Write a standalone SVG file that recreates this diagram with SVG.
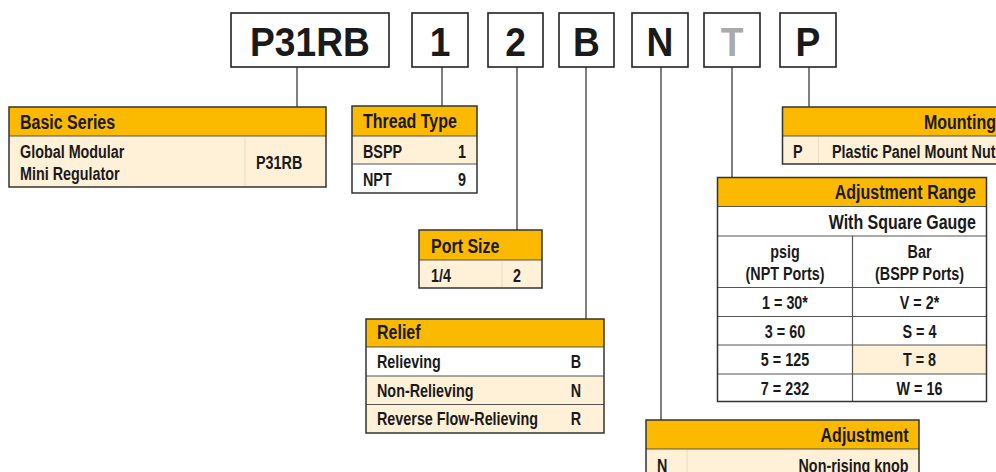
<svg xmlns="http://www.w3.org/2000/svg" width="996" height="472" viewBox="0 0 996 472">
<style>
.bg{fill:#ffffff}
.box{fill:#ffffff;stroke:#222;stroke-width:1.6}
.big{font-family:"Liberation Sans",Arial,sans-serif;font-weight:bold;font-size:40px;fill:#1a1a1a;text-anchor:middle}
.gray{fill:#aaaaaa}
.hd{fill:#fbb900}
.cr{fill:#fff0d8}
.wh{fill:#ffffff}
.frame{fill:none;stroke:#333;stroke-width:1.5}
.rule{stroke:#555;stroke-width:1.2}
.faint{stroke:#e6dcc8;stroke-width:1}
.h{font-family:"Liberation Sans",Arial,sans-serif;font-weight:bold;font-size:19.5px;fill:#1a1a1a}
.t{font-family:"Liberation Sans",Arial,sans-serif;font-weight:bold;font-size:17.5px;fill:#1a1a1a}
.m{text-anchor:middle}
.e{text-anchor:end}
.conn line{stroke:#555;stroke-width:1.5}
</style>
<rect class="bg" x="0" y="0" width="996" height="472"/>

<g id="connectors" class="conn">
<line x1="297" y1="67" x2="297" y2="107"/>
<line x1="442" y1="67" x2="442" y2="106"/>
<line x1="517" y1="67" x2="517" y2="230"/>
<line x1="586" y1="67" x2="586" y2="319"/>
<line x1="661" y1="67" x2="661" y2="420"/>
<line x1="732" y1="67" x2="732" y2="177"/>
<line x1="809" y1="67" x2="809" y2="107"/>
</g>

<g id="code-P31RB"><rect class="box" x="231" y="13" width="158" height="54"/><text class="big" transform="translate(310,56) scale(0.93,1)">P31RB</text></g>
<g id="code-1"><rect class="box" x="412" y="13" width="56" height="54"/><text class="big" transform="translate(440,56) scale(0.93,1)">1</text></g>
<g id="code-2"><rect class="box" x="488" y="13" width="55" height="54"/><text class="big" transform="translate(515.5,56) scale(0.93,1)">2</text></g>
<g id="code-B"><rect class="box" x="559" y="13" width="55" height="54"/><text class="big" transform="translate(586.5,56) scale(0.93,1)">B</text></g>
<g id="code-N"><rect class="box" x="632" y="13" width="56" height="54"/><text class="big" transform="translate(660,56) scale(0.93,1)">N</text></g>
<g id="code-T"><rect class="box" x="704" y="13" width="56" height="54"/><text class="big gray" transform="translate(732,56) scale(0.93,1)">T</text></g>
<g id="code-P"><rect class="box" x="780" y="13" width="56" height="54"/><text class="big" transform="translate(808,56) scale(0.93,1)">P</text></g>

<g id="basic-series">
<rect class="hd" x="9" y="107" width="317" height="29"/>
<rect class="cr" x="9" y="136" width="317" height="51"/>
<line class="faint" x1="245" y1="137" x2="245" y2="186"/>
<line class="rule" x1="9" y1="136" x2="326" y2="136"/>
<rect class="frame" x="9" y="107" width="317" height="80"/>
<text class="h" transform="translate(20,128.5) scale(0.82,1)">Basic Series</text>
<text class="t" transform="translate(20,158) scale(0.82,1)">Global Modular</text>
<text class="t" transform="translate(20,180) scale(0.82,1)">Mini Regulator</text>
<text class="t" transform="translate(256,169) scale(0.82,1)">P31RB</text>
</g>

<g id="thread-type">
<rect class="hd" x="352" y="106" width="125" height="30"/>
<rect class="cr" x="352" y="136" width="125" height="28"/>
<rect class="wh" x="352" y="164" width="125" height="29"/>
<line class="rule" x1="352" y1="136" x2="477" y2="136"/>
<line class="rule" x1="352" y1="164" x2="477" y2="164"/>
<rect class="frame" x="352" y="106" width="125" height="87"/>
<text class="h" transform="translate(363,128) scale(0.82,1)">Thread Type</text>
<text class="t" transform="translate(363,157.5) scale(0.82,1)">BSPP</text>
<text class="t e" transform="translate(466,157.5) scale(0.82,1)">1</text>
<text class="t" transform="translate(363,186) scale(0.82,1)">NPT</text>
<text class="t e" transform="translate(466,186) scale(0.82,1)">9</text>
</g>

<g id="port-size">
<rect class="hd" x="419" y="230" width="123" height="30"/>
<rect class="cr" x="419" y="260" width="123" height="28"/>
<line class="faint" x1="502" y1="261" x2="502" y2="287"/>
<line class="rule" x1="419" y1="260" x2="542" y2="260"/>
<rect class="frame" x="419" y="230" width="123" height="58"/>
<text class="h" transform="translate(431,252.5) scale(0.82,1)">Port Size</text>
<text class="t" transform="translate(431,281.5) scale(0.82,1)">1/4</text>
<text class="t e" transform="translate(521,281.5) scale(0.82,1)">2</text>
</g>

<g id="relief">
<rect class="hd" x="366" y="319" width="238" height="28"/>
<rect class="wh" x="366" y="347" width="238" height="29"/>
<rect class="cr" x="366" y="376" width="238" height="57"/>
<line class="rule" x1="366" y1="347" x2="604" y2="347"/>
<line class="rule" x1="366" y1="376" x2="604" y2="376"/>
<line class="rule" x1="366" y1="404.5" x2="604" y2="404.5"/>
<rect class="frame" x="366" y="319" width="238" height="114"/>
<text class="h" transform="translate(377,339) scale(0.82,1)">Relief</text>
<text class="t" transform="translate(377,368) scale(0.82,1)">Relieving</text>
<text class="t m" transform="translate(576,368) scale(0.82,1)">B</text>
<text class="t" transform="translate(377,396.5) scale(0.82,1)">Non-Relieving</text>
<text class="t m" transform="translate(576,396.5) scale(0.82,1)">N</text>
<text class="t" transform="translate(377,425) scale(0.82,1)">Reverse Flow-Relieving</text>
<text class="t m" transform="translate(576,425) scale(0.82,1)">R</text>
</g>

<g id="adjustment-range">
<rect class="hd" x="717.5" y="177.5" width="269" height="29"/>
<rect class="wh" x="717.5" y="206.5" width="269" height="195"/>
<rect class="cr" x="852.5" y="345" width="134" height="29"/>
<line class="rule" x1="717.5" y1="206.5" x2="986.5" y2="206.5"/>
<line class="rule" x1="717.5" y1="236" x2="986.5" y2="236"/>
<line class="rule" x1="717.5" y1="287.5" x2="986.5" y2="287.5"/>
<line class="rule" x1="717.5" y1="316.5" x2="986.5" y2="316.5"/>
<line class="rule" x1="717.5" y1="345" x2="986.5" y2="345"/>
<line class="rule" x1="717.5" y1="374" x2="986.5" y2="374"/>
<line class="rule" x1="852.5" y1="236" x2="852.5" y2="401.5"/>
<rect class="frame" x="717.5" y="177.5" width="269" height="224"/>
<text class="h e" transform="translate(976,198.5) scale(0.82,1)">Adjustment Range</text>
<text class="h e" transform="translate(976,228.5) scale(0.82,1)">With Square Gauge</text>
<text class="t m" transform="translate(785,257.5) scale(0.82,1)">psig</text>
<text class="t m" transform="translate(785,280) scale(0.82,1)">(NPT Ports)</text>
<text class="t m" transform="translate(919.5,257.5) scale(0.82,1)">Bar</text>
<text class="t m" transform="translate(919.5,280) scale(0.82,1)">(BSPP Ports)</text>
<text class="t m" transform="translate(785,308.5) scale(0.82,1)">1 = 30*</text>
<text class="t m" transform="translate(919.5,308.5) scale(0.82,1)">V = 2*</text>
<text class="t m" transform="translate(785,337.5) scale(0.82,1)">3 = 60</text>
<text class="t m" transform="translate(919.5,337.5) scale(0.82,1)">S = 4</text>
<text class="t m" transform="translate(785,366) scale(0.82,1)">5 = 125</text>
<text class="t m" transform="translate(919.5,366) scale(0.82,1)">T = 8</text>
<text class="t m" transform="translate(785,394.5) scale(0.82,1)">7 = 232</text>
<text class="t m" transform="translate(919.5,394.5) scale(0.82,1)">W = 16</text>
</g>

<g id="mounting">
<rect class="hd" x="782.5" y="107" width="230" height="29"/>
<rect class="cr" x="782.5" y="136" width="230" height="28"/>
<line class="faint" x1="818.5" y1="137" x2="818.5" y2="163"/>
<line class="rule" x1="782.5" y1="136" x2="1012" y2="136"/>
<rect class="frame" x="782.5" y="107" width="230" height="57"/>
<text class="h" transform="translate(924,128.5) scale(0.82,1)">Mounting</text>
<text class="t" transform="translate(793,157.5) scale(0.82,1)">P</text>
<text class="t" transform="translate(832,157.5) scale(0.82,1)">Plastic Panel Mount Nut</text>
</g>

<g id="adjustment">
<rect class="hd" x="646" y="420" width="273" height="29"/>
<rect class="cr" x="646" y="449" width="273" height="30"/>
<line class="faint" x1="687" y1="450" x2="687" y2="472"/>
<line class="rule" x1="646" y1="449" x2="919" y2="449"/>
<rect class="frame" x="646" y="420" width="273" height="60"/>
<text class="h e" transform="translate(908.5,442) scale(0.82,1)">Adjustment</text>
<text class="t" transform="translate(657,471.5) scale(0.82,1)">N</text>
<text class="t e" transform="translate(908.5,471.5) scale(0.82,1)">Non-rising knob</text>
</g>
</svg>
